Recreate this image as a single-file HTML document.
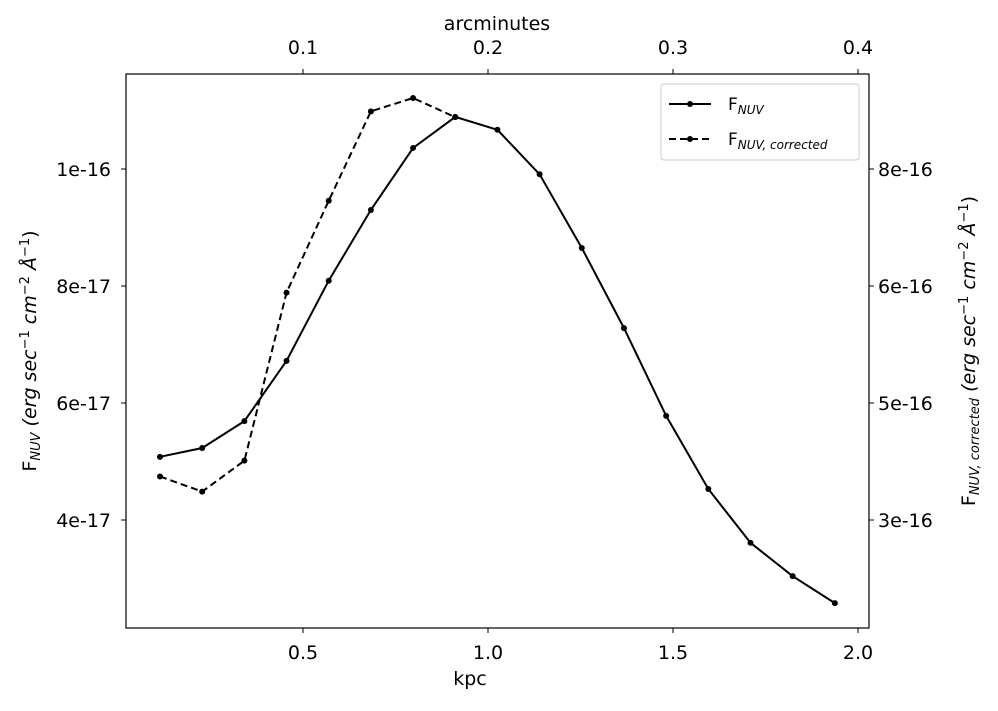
<!DOCTYPE html>
<html><head><meta charset="utf-8"><style>
body{margin:0;background:#fff;}
svg{font-family:"DejaVu Sans","Liberation Sans",sans-serif;}
</style></head><body>
<svg width="998" height="706" viewBox="0 0 998 706">
<g id="marks"></g>
<rect x="126" y="74" width="743" height="554" fill="none" stroke="#000" stroke-width="1.2"/>
<g id="axes" font-size="19"></g>
<text x="470" y="685" font-size="19" text-anchor="middle">kpc</text>
<text x="497" y="30" font-size="19" text-anchor="middle">arcminutes</text>
<text transform="translate(36,351) rotate(-90)" font-size="19" text-anchor="middle">F<tspan font-size="13" font-style="italic" dy="4">NUV</tspan><tspan dy="-4" font-style="italic"> (erg sec</tspan><tspan font-size="13" dy="-7">−1</tspan><tspan dy="7" font-style="italic"> cm</tspan><tspan font-size="13" dy="-7">−2</tspan><tspan dy="7" font-style="italic"> Å</tspan><tspan font-size="13" dy="-7">−1</tspan><tspan dy="7">)</tspan></text>
<text transform="translate(975,351) rotate(-90)" font-size="19" text-anchor="middle">F<tspan font-size="13" font-style="italic" dy="4">NUV, corrected</tspan><tspan dy="-4" font-style="italic"> (erg sec</tspan><tspan font-size="13" dy="-7">−1</tspan><tspan dy="7" font-style="italic"> cm</tspan><tspan font-size="13" dy="-7">−2</tspan><tspan dy="7" font-style="italic"> Å</tspan><tspan font-size="13" dy="-7">−1</tspan><tspan dy="7">)</tspan></text>
<g>
<rect x="661" y="84" width="198" height="76" rx="3" fill="#fff" stroke="#ccc"/>
<line x1="669" y1="104" x2="711" y2="104" stroke="#000" stroke-width="2"/>
<circle cx="690" cy="104" r="3" fill="#000"/>
<text x="728" y="110" font-size="17">F<tspan font-size="12" font-style="italic" dy="4">NUV</tspan></text>
<line x1="669" y1="139" x2="711" y2="139" stroke="#000" stroke-width="2" stroke-dasharray="7,4"/>
<circle cx="690" cy="139" r="3" fill="#000"/>
<text x="728" y="145" font-size="17">F<tspan font-size="12" font-style="italic" dy="4">NUV, corrected</tspan></text>
</g>
</svg>
<script>
const kpc=[0.1135,0.2275,0.3415,0.4555,0.5695,0.6835,0.7975,0.9115,1.0255,1.1395,1.2535,1.3675,1.4815,1.5955,1.7095,1.8235,1.9375];
const fnuv=[5.08,5.23,5.69,6.72,8.09,9.30,10.36,10.89,10.67,9.91,8.65,7.28,5.78,4.53,3.61,3.04,2.58]; // e-17
const fcorr=[3.92,3.74,4.11,6.12,7.22,8.29,8.45,8.22]; // e-16
const xTicks=[0.5,1.0,1.5,2.0];
const xTickLabels=['0.5','1.0','1.5','2.0'];
const topTicks=[0.1,0.2,0.3,0.4];
const topTickLabels=['0.1','0.2','0.3','0.4'];
const leftTicks=[10,8,6,4];
const leftTickLabels=['1e-16','8e-17','6e-17','4e-17'];
const rightTicks=[7.6,6.2,4.8,3.4];
const rightTickLabels=['8e-16','6e-16','5e-16','3e-16'];
const NS='http://www.w3.org/2000/svg';
const X=v=>118+v*370;
const XT=v=>118+v*1850;
const YL=v=>169+(10-v)/2*117;
const YR=v=>169+(7.6-v)/1.4*117;
const marks=document.getElementById('marks'),axes=document.getElementById('axes');
function mk(t,a,p){const e=document.createElementNS(NS,t);for(const k in a)e.setAttribute(k,a[k]);p.appendChild(e);return e;}
function series(ys,Y,dash,name){
  const pts=ys.map((v,i)=>X(kpc[i]).toFixed(1)+','+Y(v).toFixed(1)).join(' ');
  const pl=mk('polyline',{points:pts,fill:'none',stroke:'#000','stroke-width':2,'stroke-dasharray':dash},marks);
  
  
  ys.forEach((v,i)=>{const c=mk('circle',{cx:X(kpc[i]),cy:Y(v),r:3,fill:'#000'},marks);
    
    });
}
series(fcorr,YR,'7,4','fnuv-corrected');
series(fnuv,YL,'none','fnuv');
function tick(x1,y1,x2,y2,tx,ty,anchor,label,name){
  const l=mk('line',{x1,y1,x2,y2,stroke:'#000','stroke-width':1},axes);
  
  
  const t=mk('text',{x:tx,y:ty,'text-anchor':anchor},axes);t.textContent=label;
  
  
}
xTicks.forEach((v,i)=>tick(X(v),628,X(v),633,X(v),659,'middle',xTickLabels[i],'x-axis'));
topTicks.forEach((v,i)=>tick(XT(v),74,XT(v),69,XT(v),54,'middle',topTickLabels[i],'top-axis'));
leftTicks.forEach((v,i)=>tick(121,YL(v),126,YL(v),111,YL(v)+7,'end',leftTickLabels[i],'y-axis'));
rightTicks.forEach((v,i)=>tick(869,YR(v),874,YR(v),878,YR(v)+7,'start',rightTickLabels[i],'right-axis'));
</script>
</body></html>
